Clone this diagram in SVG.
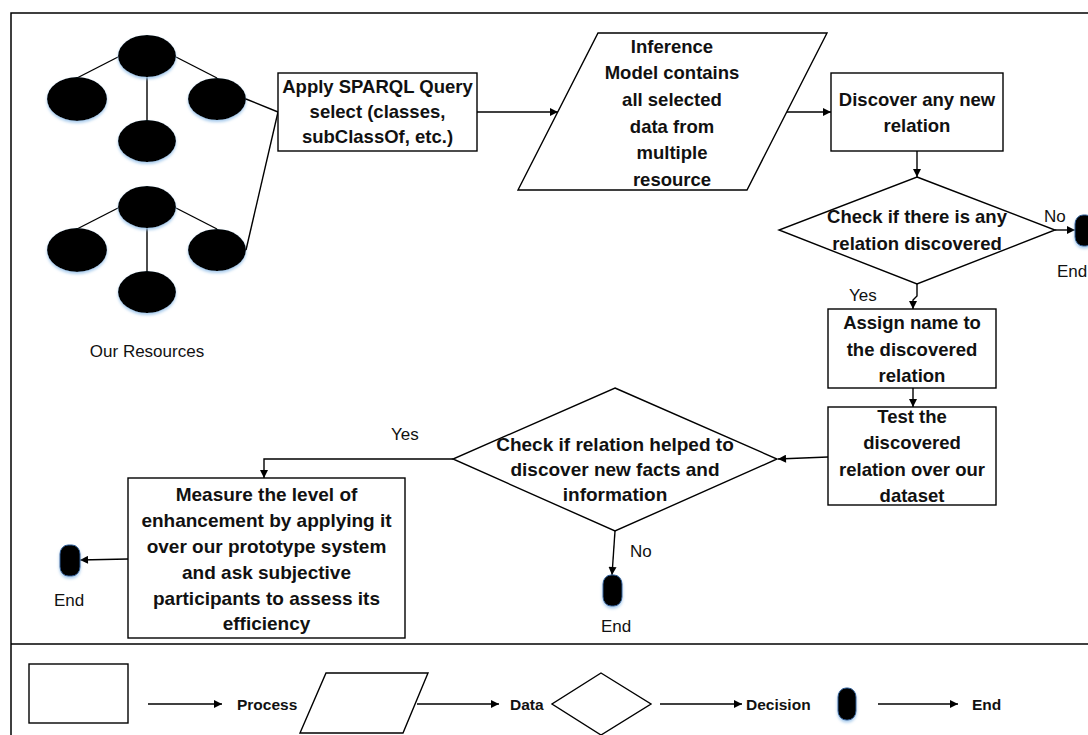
<svg xmlns="http://www.w3.org/2000/svg" width="1088" height="735" viewBox="0 0 1088 735">
<defs>
  <marker id="ah" viewBox="0 0 10 10" refX="10" refY="5" markerWidth="9" markerHeight="8" markerUnits="userSpaceOnUse" orient="auto">
    <path d="M0,0 L10,5 L0,10 Z" fill="#000"/>
  </marker>
  <filter id="glow" x="-30%" y="-30%" width="160%" height="170%">
    <feDropShadow dx="0" dy="2" stdDeviation="1.5" flood-color="#9ec5ea" flood-opacity="0.9"/>
  </filter>
</defs>
<style>
  .frame{fill:none;stroke:#000;stroke-width:1.5}
  .node{fill:#fff;stroke:#000;stroke-width:1.4}
  .tree{fill:#000;filter:url(#glow)}
  .end{fill:#000;stroke:#2a5b96;stroke-width:1;filter:url(#glow)}
  .edge{fill:none;stroke:#000;stroke-width:1.4}
  .arr{fill:none;stroke:#000;stroke-width:1.4;marker-end:url(#ah)}
  .b{font-family:"Liberation Sans",Arial,sans-serif;font-weight:bold;font-size:18.5px;fill:#111;text-anchor:middle}
  .bl{font-family:"Liberation Sans",Arial,sans-serif;font-weight:bold;font-size:19px;fill:#111;text-anchor:middle}
  .n{font-family:"Liberation Sans",Arial,sans-serif;font-size:17px;fill:#111}
  .lg{font-family:"Liberation Sans",Arial,sans-serif;font-weight:bold;font-size:15.5px;fill:#111}
</style>
<rect width="1088" height="735" fill="#fff"/>
<!-- frame -->
<path class="frame" d="M1095,13 L11,13 L11,745"/>
<line class="frame" x1="11" y1="644" x2="1095" y2="644"/>

<!-- resources -->
<g id="resources">
  <g class="edge">
    <line x1="118" y1="57" x2="77" y2="78"/>
    <line x1="176" y1="57" x2="217" y2="78"/>
    <line x1="147" y1="77" x2="147" y2="121"/>
    <line x1="118" y1="208" x2="77" y2="229"/>
    <line x1="176" y1="208" x2="217" y2="229"/>
    <line x1="147" y1="228" x2="147" y2="272"/>
  </g>
  <ellipse class="tree" cx="147" cy="56" rx="29" ry="21"/>
  <ellipse class="tree" cx="77" cy="99" rx="30" ry="22"/>
  <ellipse class="tree" cx="217" cy="99" rx="29" ry="21"/>
  <ellipse class="tree" cx="147" cy="141" rx="29" ry="21"/>
  <ellipse class="tree" cx="147" cy="207" rx="29" ry="21"/>
  <ellipse class="tree" cx="77" cy="250" rx="30" ry="22"/>
  <ellipse class="tree" cx="217" cy="250" rx="29" ry="21"/>
  <ellipse class="tree" cx="147" cy="292" rx="29" ry="21"/>
  <text class="n" x="147" y="357" text-anchor="middle" font-size="17.5">Our Resources</text>
</g>

<!-- connectors -->
<g id="connectors">
  <line class="edge" x1="246" y1="99" x2="278" y2="112"/>
  <line class="edge" x1="246" y1="250" x2="278" y2="112"/>
  <line class="arr" x1="477" y1="112" x2="558" y2="112"/>
  <line class="arr" x1="787" y1="112" x2="831" y2="112"/>
  <line class="arr" x1="917" y1="151" x2="917" y2="177"/>
  <line class="arr" x1="1055" y1="230" x2="1075" y2="230"/>
  <polyline class="arr" points="917,284 917,296 913,300 913,309"/>
  <line class="arr" x1="913" y1="388" x2="913" y2="407"/>
  <line class="arr" x1="828" y1="457" x2="778" y2="459"/>
  <polyline class="arr" points="453,459 264,459 264,478"/>
  <line class="arr" x1="615" y1="531" x2="612" y2="575"/>
  <line class="arr" x1="128" y1="559" x2="80" y2="560"/>
  <text class="n" x="1044" y="222">No</text>
  <text class="n" x="849" y="301">Yes</text>
  <text class="n" x="391" y="440">Yes</text>
  <text class="n" x="630" y="557">No</text>
</g>

<g id="apply">
  <rect class="node" x="278" y="73" width="199" height="78"/>
  <text class="b" x="377.5" y="93">Apply SPARQL Query</text>
  <text class="b" x="377.5" y="118">select (classes,</text>
  <text class="b" x="377.5" y="143">subClassOf, etc.)</text>
</g>

<g id="inference">
  <polygon class="node" points="598,33 827,33 747,190 518,190"/>
  <text class="b" x="672" y="53">Inference</text>
  <text class="b" x="672" y="79">Model contains</text>
  <text class="b" x="672" y="106">all selected</text>
  <text class="b" x="672" y="133">data from</text>
  <text class="b" x="672" y="159">multiple</text>
  <text class="b" x="672" y="186">resource</text>
</g>

<g id="discover">
  <rect class="node" x="831" y="73" width="172" height="78"/>
  <text class="b" x="917" y="106">Discover any new</text>
  <text class="b" x="917" y="132">relation</text>
</g>

<g id="check1">
  <polygon class="node" points="917,177 1055,230 917,284 779,230"/>
  <text class="b" x="917" y="223">Check if there is any</text>
  <text class="b" x="917" y="250">relation discovered</text>
</g>

<g id="end1">
  <rect class="end" x="1075" y="215" width="19" height="31" rx="8" ry="9"/>
  <text class="n" x="1057" y="277">End</text>
</g>

<g id="assign">
  <rect class="node" x="828" y="309" width="168" height="79"/>
  <text class="b" x="912" y="329">Assign name to</text>
  <text class="b" x="912" y="356">the discovered</text>
  <text class="b" x="912" y="382">relation</text>
</g>

<g id="test">
  <rect class="node" x="828" y="407" width="168" height="98"/>
  <text class="b" x="912" y="423">Test the</text>
  <text class="b" x="912" y="449">discovered</text>
  <text class="b" x="912" y="476">relation over our</text>
  <text class="b" x="912" y="502">dataset</text>
</g>

<g id="check2">
  <polygon class="node" points="615,388 777,459 615,531 453,459"/>
  <text class="bl" x="615" y="451">Check if relation helped to</text>
  <text class="bl" x="615" y="476">discover new facts and</text>
  <text class="bl" x="615" y="501">information</text>
</g>

<g id="end2">
  <rect class="end" x="603" y="575" width="19" height="31" rx="8" ry="9"/>
  <text class="n" x="601" y="632">End</text>
</g>

<g id="measure">
  <rect class="node" x="128" y="478" width="277" height="160"/>
  <text class="bl" x="266.5" y="501">Measure the level of</text>
  <text class="bl" x="266.5" y="527">enhancement by applying it</text>
  <text class="bl" x="266.5" y="553">over our prototype system</text>
  <text class="bl" x="266.5" y="579">and ask subjective</text>
  <text class="bl" x="266.5" y="605">participants to assess its</text>
  <text class="bl" x="266.5" y="630">efficiency</text>
</g>

<g id="end3">
  <rect class="end" x="60" y="545" width="20" height="31" rx="8" ry="9"/>
  <text class="n" x="54" y="606">End</text>
</g>

<g id="legend">
  <rect class="node" x="29" y="664" width="99" height="59"/>
  <line class="arr" x1="148" y1="704" x2="222" y2="704"/>
  <text class="lg" x="237" y="710">Process</text>
  <polygon class="node" points="326,673 428,673 403,733 300,733"/>
  <line class="arr" x1="417" y1="704" x2="499" y2="704"/>
  <text class="lg" x="510" y="710">Data</text>
  <polygon class="node" points="601,673 651,704 601,735 552,704"/>
  <line class="arr" x1="660" y1="704" x2="742" y2="704"/>
  <text class="lg" x="746" y="710">Decision</text>
  <rect class="end" x="838" y="688" width="18" height="32" rx="8" ry="9"/>
  <line class="arr" x1="878" y1="704" x2="958" y2="704"/>
  <text class="lg" x="972" y="710">End</text>
</g>
</svg>
